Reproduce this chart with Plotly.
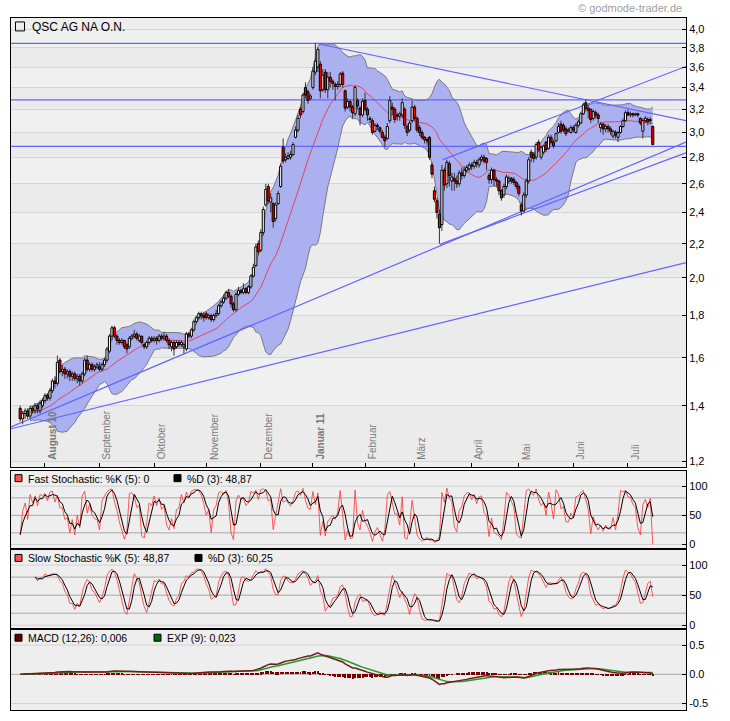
import numpy as np
import pandas as pd
import plotly.graph_objects as go

# ---------------- data ----------------
first_day = "2010-07-19"
last_day = "2011-07-15"
holidays = ["2010-12-24", "2010-12-31", "2011-04-22", "2011-04-25"]

opens = [
    1.39, 1.35, 1.37, 1.38, 1.36, 1.39, 1.38, 1.40, 1.38, 1.40,
    1.42, 1.44, 1.43, 1.46, 1.50, 1.49, 1.59, 1.54, 1.55, 1.53, 1.54, 1.52, 1.53, 1.51, 1.52, 1.50, 1.53, 1.59, 1.55, 1.57, 1.55, 1.56,
    1.56, 1.55, 1.57, 1.59, 1.63, 1.70, 1.74, 1.70, 1.68, 1.67, 1.68, 1.66, 1.65, 1.69, 1.70, 1.71, 1.68, 1.70, 1.66, 1.65, 1.67, 1.69,
    1.68, 1.69, 1.68, 1.70, 1.69, 1.70, 1.68, 1.65, 1.67, 1.65, 1.67, 1.66, 1.65, 1.64, 1.71, 1.70, 1.73, 1.77, 1.79, 1.81, 1.80,
    1.81, 1.79, 1.80, 1.78, 1.80, 1.81, 1.85, 1.87, 1.89, 1.92, 1.90, 1.86, 1.83, 1.91, 1.93, 1.92, 1.94, 1.92, 1.95, 2.01, 2.07, 2.20,
    2.16, 2.27, 2.45, 2.58, 2.47, 2.46, 2.36, 2.46, 2.58, 2.88, 2.78, 2.79, 2.80, 2.82, 2.96, 3.02, 3.20, 3.18, 3.40, 3.36, 3.30,
    3.40, 3.55, 3.60, 3.63, 3.38, 3.55, 3.38, 3.50, 3.46, 3.43, 3.41, 3.43, 3.54, 3.37, 3.22, 3.27, 3.22, 3.16, 3.28, 3.21, 3.15,
    3.28, 3.20, 3.11, 3.10, 3.01, 3.06, 3.04, 3.00, 2.96, 2.95, 3.10, 3.22, 3.20, 3.15, 3.14, 3.15, 3.20, 3.05, 3.02, 3.10,
    3.22, 3.12, 3.04, 3.00, 2.96, 2.94, 2.96, 2.74, 2.55, 2.48, 2.39, 2.32, 2.70, 2.60, 2.75, 2.62, 2.64, 2.62, 2.60, 2.68, 2.66, 2.70, 2.71,
    2.74, 2.73, 2.76, 2.74, 2.78, 2.80, 2.79, 2.66, 2.63, 2.70, 2.63, 2.62, 2.55, 2.52, 2.58, 2.62, 2.64, 2.63, 2.61,
    2.58, 2.45, 2.41, 2.52, 2.62, 2.84, 2.82, 2.80, 2.92, 2.80, 2.84, 2.92, 2.87, 2.96, 2.92, 2.93, 3.00, 3.07, 3.06, 3.03, 3.01, 3.00,
    3.04, 3.00, 3.06, 3.08, 3.16, 3.26, 3.21, 3.20, 3.12, 3.17, 3.15, 3.04, 3.07, 3.03, 3.05, 3.03, 2.97, 3.00, 2.96, 3.00, 3.05, 3.10,
    3.17, 3.15, 3.16, 3.15, 3.16, 3.12, 3.01, 3.10, 3.11, 3.11, 3.05,
]
highs = [
    1.40, 1.38, 1.39, 1.39, 1.40, 1.40, 1.41, 1.41, 1.42, 1.43,
    1.45, 1.45, 1.47, 1.51, 1.52, 1.61, 1.60, 1.57, 1.56, 1.55, 1.55, 1.54, 1.54, 1.53, 1.53, 1.54, 1.60, 1.61, 1.58, 1.58, 1.57, 1.58,
    1.58, 1.58, 1.60, 1.65, 1.71, 1.75, 1.75, 1.71, 1.69, 1.69, 1.68, 1.67, 1.70, 1.71, 1.73, 1.72, 1.71, 1.70, 1.67, 1.68, 1.70, 1.70,
    1.70, 1.70, 1.71, 1.71, 1.72, 1.71, 1.69, 1.68, 1.68, 1.68, 1.68, 1.68, 1.67, 1.72, 1.72, 1.74, 1.78, 1.80, 1.82, 1.82, 1.82,
    1.82, 1.81, 1.81, 1.81, 1.83, 1.86, 1.88, 1.91, 1.93, 1.94, 1.91, 1.87, 1.92, 1.95, 1.94, 1.97, 1.95, 1.96, 2.02, 2.08, 2.20, 2.22,
    2.29, 2.44, 2.60, 2.60, 2.53, 2.47, 2.47, 2.55, 2.75, 2.95, 2.83, 2.84, 2.85, 2.92, 3.05, 3.15, 3.22, 3.35, 3.45, 3.38, 3.34,
    3.60, 3.85, 3.80, 3.66, 3.58, 3.58, 3.55, 3.55, 3.48, 3.45, 3.46, 3.55, 3.56, 3.38, 3.30, 3.29, 3.24, 3.42, 3.30, 3.23, 3.30,
    3.35, 3.22, 3.14, 3.12, 3.08, 3.08, 3.05, 3.02, 2.98, 3.08, 3.32, 3.26, 3.22, 3.17, 3.18, 3.30, 3.22, 3.07, 3.10, 3.28,
    3.24, 3.14, 3.06, 3.02, 2.97, 2.96, 2.97, 2.76, 2.58, 2.50, 2.42, 2.74, 2.72, 2.78, 2.77, 2.68, 2.68, 2.66, 2.70, 2.72, 2.73, 2.74, 2.76,
    2.76, 2.78, 2.78, 2.80, 2.82, 2.82, 2.80, 2.68, 2.72, 2.71, 2.65, 2.63, 2.56, 2.60, 2.67, 2.66, 2.65, 2.65, 2.62,
    2.60, 2.47, 2.54, 2.64, 2.80, 2.86, 2.84, 2.92, 2.94, 2.89, 2.90, 2.93, 2.98, 2.98, 2.94, 3.00, 3.08, 3.10, 3.08, 3.05, 3.04, 3.06,
    3.06, 3.08, 3.11, 3.18, 3.26, 3.29, 3.24, 3.21, 3.20, 3.19, 3.17, 3.09, 3.08, 3.07, 3.07, 3.05, 3.02, 3.02, 3.01, 3.06, 3.12, 3.19,
    3.20, 3.18, 3.17, 3.17, 3.17, 3.13, 3.12, 3.14, 3.13, 3.13, 3.06,
]
lows = [
    1.34, 1.33, 1.35, 1.35, 1.35, 1.37, 1.37, 1.37, 1.37, 1.39,
    1.41, 1.42, 1.42, 1.45, 1.47, 1.48, 1.53, 1.52, 1.51, 1.51, 1.50, 1.50, 1.50, 1.49, 1.48, 1.49, 1.52, 1.54, 1.54, 1.54, 1.54, 1.55,
    1.54, 1.54, 1.56, 1.58, 1.62, 1.68, 1.69, 1.66, 1.66, 1.66, 1.64, 1.62, 1.64, 1.68, 1.69, 1.68, 1.67, 1.66, 1.64, 1.64, 1.66, 1.67,
    1.67, 1.66, 1.67, 1.68, 1.68, 1.67, 1.64, 1.63, 1.61, 1.64, 1.65, 1.65, 1.62, 1.63, 1.69, 1.69, 1.72, 1.76, 1.78, 1.78, 1.77,
    1.78, 1.78, 1.77, 1.77, 1.79, 1.80, 1.84, 1.86, 1.88, 1.89, 1.84, 1.82, 1.82, 1.90, 1.91, 1.91, 1.91, 1.91, 1.94, 2.00, 2.06, 2.13,
    2.15, 2.25, 2.44, 2.46, 2.40, 2.30, 2.34, 2.45, 2.57, 2.75, 2.76, 2.78, 2.78, 2.81, 2.95, 3.00, 3.12, 3.16, 3.30, 3.25, 3.28,
    3.38, 3.52, 3.55, 3.30, 3.36, 3.35, 3.30, 3.40, 3.38, 3.28, 3.38, 3.40, 3.40, 3.18, 3.20, 3.18, 3.12, 3.14, 3.20, 3.06, 3.13,
    3.18, 3.10, 3.08, 2.98, 3.00, 3.02, 2.99, 2.95, 2.88, 2.94, 3.08, 3.15, 3.08, 3.10, 3.10, 3.12, 3.03, 2.97, 3.00, 3.08,
    3.10, 3.00, 2.97, 2.94, 2.91, 2.90, 2.78, 2.64, 2.47, 2.36, 2.20, 2.28, 2.55, 2.57, 2.58, 2.55, 2.55, 2.57, 2.58, 2.63, 2.64, 2.68, 2.69,
    2.70, 2.71, 2.72, 2.72, 2.76, 2.75, 2.70, 2.60, 2.60, 2.58, 2.58, 2.52, 2.48, 2.50, 2.56, 2.60, 2.60, 2.59, 2.56,
    2.51, 2.38, 2.40, 2.50, 2.60, 2.76, 2.76, 2.78, 2.84, 2.78, 2.82, 2.84, 2.86, 2.90, 2.87, 2.92, 2.99, 2.99, 3.00, 2.97, 3.00, 2.99,
    3.00, 2.99, 3.04, 3.07, 3.15, 3.18, 3.12, 3.08, 3.10, 3.12, 3.08, 3.00, 2.98, 3.00, 3.00, 2.98, 2.95, 2.95, 2.92, 2.99, 3.04, 3.09,
    3.14, 3.13, 3.13, 3.14, 3.13, 3.06, 2.95, 3.08, 3.06, 3.07, 2.90,
]
closes = [
    1.35, 1.37, 1.38, 1.36, 1.39, 1.38, 1.40, 1.39, 1.41, 1.42,
    1.44, 1.43, 1.46, 1.50, 1.49, 1.58, 1.54, 1.55, 1.53, 1.54, 1.52, 1.53, 1.51, 1.52, 1.50, 1.53, 1.59, 1.55, 1.57, 1.55, 1.56, 1.57,
    1.55, 1.57, 1.59, 1.64, 1.70, 1.74, 1.70, 1.68, 1.67, 1.68, 1.65, 1.64, 1.69, 1.70, 1.71, 1.69, 1.70, 1.67, 1.65, 1.67, 1.69, 1.68,
    1.69, 1.68, 1.70, 1.69, 1.70, 1.68, 1.66, 1.67, 1.64, 1.67, 1.66, 1.67, 1.66, 1.71, 1.70, 1.73, 1.77, 1.79, 1.81, 1.80, 1.79,
    1.79, 1.80, 1.78, 1.80, 1.81, 1.85, 1.87, 1.89, 1.92, 1.90, 1.86, 1.83, 1.91, 1.93, 1.92, 1.94, 1.92, 1.95, 2.01, 2.06, 2.18, 2.15,
    2.27, 2.42, 2.56, 2.48, 2.50, 2.34, 2.45, 2.53, 2.73, 2.77, 2.80, 2.81, 2.82, 2.90, 3.02, 3.12, 3.15, 3.33, 3.33, 3.28, 3.32,
    3.56, 3.66, 3.78, 3.37, 3.52, 3.38, 3.50, 3.46, 3.44, 3.41, 3.43, 3.53, 3.43, 3.21, 3.27, 3.22, 3.17, 3.40, 3.23, 3.15, 3.27,
    3.20, 3.15, 3.12, 3.00, 3.06, 3.05, 3.01, 2.96, 2.93, 3.05, 3.28, 3.20, 3.11, 3.14, 3.16, 3.26, 3.06, 3.00, 3.08, 3.22,
    3.12, 3.02, 3.00, 2.96, 2.94, 2.93, 2.80, 2.67, 2.49, 2.40, 2.30, 2.70, 2.59, 2.76, 2.66, 2.65, 2.62, 2.60, 2.68, 2.66, 2.70, 2.72, 2.74,
    2.73, 2.76, 2.75, 2.78, 2.80, 2.77, 2.76, 2.63, 2.70, 2.63, 2.62, 2.55, 2.50, 2.58, 2.65, 2.64, 2.62, 2.61, 2.58,
    2.53, 2.41, 2.52, 2.62, 2.78, 2.80, 2.79, 2.90, 2.86, 2.88, 2.89, 2.86, 2.96, 2.92, 2.89, 2.99, 3.05, 3.01, 3.02, 2.99, 3.02, 3.04,
    3.02, 3.06, 3.09, 3.16, 3.24, 3.21, 3.19, 3.11, 3.18, 3.15, 3.12, 3.07, 3.03, 3.05, 3.03, 3.01, 3.01, 2.98, 3.00, 3.05, 3.10, 3.17,
    3.15, 3.16, 3.15, 3.16, 3.15, 3.08, 3.10, 3.12, 3.09, 3.10, 2.90,
]

month_labels = ["August 10", "September", "Oktober", "November", "Dezember", "Januar 11",
                "Februar", "März", "April", "Mai", "Juni", "Juli"]
price_ticks = [1.2, 1.4, 1.6, 1.8, 2.0, 2.2, 2.4, 2.6, 2.8, 3.0, 3.2, 3.4, 3.6, 3.8, 4.0]
price_tick_text = ["1,2", "1,4", "1,6", "1,8", "2,0", "2,2", "2,4", "2,6", "2,8", "3,0",
                   "3,2", "3,4", "3,6", "3,8", "4,0"]
stoch_ticks = [0, 50, 100]
stoch_grid = [0, 20, 50, 80, 100]
macd_ticks = [-0.5, 0.0, 0.5]
macd_tick_text = ["-0.5", "0.0", "0.5"]

# trend lines: (start index, start price) -> (end index, end price)
trend_x0 = [-3.7, -3.7, -3.7, 119.0, 170.4, -3.7, 169.2, -3.7]
trend_p0 = [3.847, 3.286, 2.885, 3.847, 2.781, 1.320, 2.196, 1.313]
trend_x1 = [268.4, 268.4, 268.4, 268.4, 268.4, 268.4, 268.4, 268.4]
trend_p1 = [3.847, 3.286, 2.885, 3.100, 3.606, 2.920, 2.835, 2.087]

title_text = "QSC AG NA O.N."
fast_k_text = "Fast Stochastic: %K (5): 0"
fast_d_text = "%D (3): 48,87"
slow_k_text = "Slow Stochastic %K (5): 48,87"
slow_d_text = "%D (3): 60,25"
macd_text = "MACD (12,26): 0,006"
exp_text = "EXP (9): 0,023"
watermark = "© godmode-trader.de"

# ---------------- derived ----------------
dates = pd.bdate_range(first_day, last_day)
dates = dates[~dates.isin(pd.to_datetime(holidays))]
n = len(closes)
assert len(dates) == n == len(opens) == len(highs) == len(lows)
xi = np.arange(n)
month_starts = [i for i in range(1, n) if dates[i].month != dates[i - 1].month]

c = pd.Series(closes)
h = pd.Series(highs)
l = pd.Series(lows)
sma = c.rolling(20, min_periods=5).mean()
sd = c.rolling(20, min_periods=5).std(ddof=0)
upper = sma + 2 * sd
lower = sma - 2 * sd

ll = l.rolling(5, min_periods=1).min()
hh = h.rolling(5, min_periods=1).max()
fast_k = 100 * (c - ll) / (hh - ll)
fast_d = fast_k.rolling(3, min_periods=1).mean()
slow_k = fast_d.where(xi >= 6)
slow_d = slow_k.rolling(3, min_periods=1).mean()

ema12 = c.ewm(span=12, adjust=False).mean()
ema26 = c.ewm(span=26, adjust=False).mean()
macd = ema12 - ema26
signal = macd.ewm(span=9, adjust=False).mean()
hist = macd - signal

# candle geometry built from the OHLC lists
HALF = 0.42
wick_x, wick_y = [], []
up_x, up_y, dn_x, dn_y = [], [], [], []
for i in range(n):
    wick_x += [i, i, None]
    wick_y += [lows[i], highs[i], None]
    bx = [i - HALF, i + HALF, i + HALF, i - HALF, i - HALF, None]
    by = [opens[i], opens[i], closes[i], closes[i], opens[i], None]
    if closes[i] >= opens[i]:
        up_x += bx; up_y += by
    else:
        dn_x += bx; dn_y += by

# ---------------- layout helpers ----------------
W, H = 730, 721
X_RANGE = [-3.7, 268.4]
def px(p): return p / W
def py(p): return 1 - p / H

FONT = "Liberation Sans, Arial, sans-serif"
fig = go.Figure()

# Bollinger band
fig.add_trace(go.Scatter(x=xi, y=lower, mode="lines", line=dict(color="#7a7a7a", width=1),
                         xaxis="x", yaxis="y", hoverinfo="skip"))
fig.add_trace(go.Scatter(x=xi, y=upper, mode="lines", line=dict(color="#7a7a7a", width=1),
                         fill="tonexty", fillcolor="rgb(170,176,240)",
                         xaxis="x", yaxis="y", hoverinfo="skip"))
fig.add_trace(go.Scatter(x=xi, y=sma, mode="lines", line=dict(color="rgb(225,70,90)", width=1),
                         xaxis="x", yaxis="y"))
for a0, b0, a1, b1 in zip(trend_x0, trend_p0, trend_x1, trend_p1):
    fig.add_trace(go.Scatter(x=[a0, a1], y=[b0, b1], mode="lines",
                             line=dict(color="rgb(100,100,255)", width=1.2),
                             xaxis="x", yaxis="y", hoverinfo="skip"))
# candles
fig.add_trace(go.Scatter(x=wick_x, y=wick_y, mode="lines", line=dict(color="#333333", width=1),
                         xaxis="x", yaxis="y", hoverinfo="skip"))
fig.add_trace(go.Scatter(x=up_x, y=up_y, mode="lines", fill="toself", fillcolor="white",
                         line=dict(color="black", width=1), xaxis="x", yaxis="y", hoverinfo="skip"))
fig.add_trace(go.Scatter(x=dn_x, y=dn_y, mode="lines", fill="toself", fillcolor="#ff0000",
                         line=dict(color="black", width=1), xaxis="x", yaxis="y", hoverinfo="skip"))

# Fast stochastic
fig.add_trace(go.Scatter(x=xi, y=fast_k, mode="lines", line=dict(color="rgba(255,50,50,0.8)", width=1),
                         xaxis="x2", yaxis="y2"))
fig.add_trace(go.Scatter(x=xi, y=fast_d, mode="lines", line=dict(color="black", width=1),
                         xaxis="x2", yaxis="y2"))
# Slow stochastic
fig.add_trace(go.Scatter(x=xi, y=slow_k, mode="lines", line=dict(color="rgba(255,50,50,0.8)", width=1),
                         xaxis="x3", yaxis="y3"))
fig.add_trace(go.Scatter(x=xi, y=slow_d, mode="lines", line=dict(color="black", width=1),
                         xaxis="x3", yaxis="y3"))
# MACD
fig.add_trace(go.Bar(x=xi, y=hist, marker=dict(color="#7a0000", line=dict(width=0)), width=0.4,
                     xaxis="x4", yaxis="y4"))
fig.add_trace(go.Scatter(x=xi, y=signal, mode="lines", line=dict(color="rgb(40,150,40)", width=1.5),
                         xaxis="x4", yaxis="y4"))
fig.add_trace(go.Scatter(x=xi, y=macd, mode="lines", line=dict(color="rgb(110,30,30)", width=1.5),
                         xaxis="x4", yaxis="y4"))

xdom = [px(11), px(686)]
common_x = dict(domain=xdom, range=X_RANGE, showgrid=False, zeroline=False, showline=True,
                mirror=True, linecolor="black", linewidth=1, fixedrange=True)
common_y = dict(side="right", showline=True, mirror=True, linecolor="black", linewidth=1,
                ticks="inside", ticklen=4, tickcolor="black", zeroline=False,
                tickfont=dict(family=FONT, size=11, color="black"), fixedrange=True)

shapes = []
# alternating background bands in main panel
for i in range(len(price_ticks) - 1):
    shapes.append(dict(type="rect", xref="x domain", yref="y", x0=0, x1=1,
                       y0=price_ticks[i], y1=price_ticks[i + 1], layer="below",
                       line=dict(width=0), fillcolor="#ebebeb" if i % 2 == 0 else "#f0f0f0"))
for yref, vals in (("y2", stoch_grid), ("y3", stoch_grid)):
    for v in vals:
        shapes.append(dict(type="line", xref="x domain", yref=yref, x0=0, x1=1, y0=v, y1=v,
                           layer="below",
                           line=dict(color="#d2d2d2" if v in (0, 100) else "#a8a8a8", width=1)))
for v in macd_ticks:
    shapes.append(dict(type="line", xref="x domain", yref="y4", x0=0, x1=1, y0=v, y1=v,
                       layer="below", line=dict(color="#a8a8a8" if v == 0 else "#d2d2d2", width=1)))

# legend squares
def square(x0, y0, color):
    shapes.append(dict(type="rect", xref="paper", yref="paper", x0=px(x0), x1=px(x0 + 7),
                       y0=py(y0 + 7), y1=py(y0), fillcolor=color, line=dict(color="black", width=1)))
shapes.append(dict(type="rect", xref="paper", yref="paper", x0=px(15.5), x1=px(24.5),
                   y0=py(31), y1=py(22), fillcolor="rgba(0,0,0,0)", line=dict(color="black", width=1)))
square(15, 476, "#ff5050")
square(174, 476, "black")
square(15, 556, "#ff5050")
square(195, 556, "black")
square(15, 636, "#660000")
square(154, 636, "#006600")

annotations = []
def text(x, y, s, size=10.5, color="black", anchor="left"):
    annotations.append(dict(xref="paper", yref="paper", x=px(x), y=py(y), text=s, showarrow=False,
                            xanchor=anchor, yanchor="middle",
                            font=dict(family=FONT, size=size, color=color)))
text(30, 27, title_text, size=12)
text(26, 480, fast_k_text)
text(185, 480, fast_d_text)
text(26, 560, slow_k_text)
text(206, 560, slow_d_text)
text(26, 640, macd_text)
text(165, 640, exp_text)
text(684, 8, watermark, size=11, color="#a0a0a0", anchor="right")

for pos, lab in zip(month_starts, month_labels):
    bold = lab.endswith("10") or lab.endswith("11")
    annotations.append(dict(xref="x", yref="paper", x=pos, y=py(468), text=("<b>%s</b>" % lab) if bold else lab,
                            textangle=-90, showarrow=False, xanchor="left", yanchor="bottom",
                            xshift=0, yshift=5,
                            font=dict(family=FONT, size=10, color="#7a7a7a")))

fig.update_layout(
    width=W, height=H, margin=dict(l=0, r=0, t=0, b=0),
    paper_bgcolor="white", plot_bgcolor="#eeeeee",
    showlegend=False, bargap=0,
    xaxis=dict(common_x, anchor="y", tickvals=month_starts, ticks="inside", ticklen=4,
               tickcolor="black", showticklabels=False),
    xaxis2=dict(common_x, anchor="y2", showticklabels=False, ticks=""),
    xaxis3=dict(common_x, anchor="y3", showticklabels=False, ticks=""),
    xaxis4=dict(common_x, anchor="y4", showticklabels=False, ticks=""),
    yaxis=dict(common_y, anchor="x", domain=[py(468), py(18)], type="log",
               range=[0.0723, 0.6158], tickvals=price_ticks, ticktext=price_tick_text,
               showgrid=True, gridcolor="#d6d6d6", gridwidth=1),
    yaxis2=dict(common_y, anchor="x2", domain=[py(551), py(472)], range=[-8.5, 126.6],
                tickvals=stoch_ticks, showgrid=False),
    yaxis3=dict(common_y, anchor="x3", domain=[py(631), py(551)], range=[-6.7, 126],
                tickvals=stoch_ticks, showgrid=False),
    yaxis4=dict(common_y, anchor="x4", domain=[py(712), py(631)], range=[-0.61, 0.77],
                tickvals=macd_ticks, ticktext=macd_tick_text, showgrid=False),
    shapes=shapes, annotations=annotations,
)

# remove the page's default 8px body margin so the figure fills the window exactly
fig.write_html("out.html", config={"displayModeBar": False},
               post_script="document.body.style.margin='0px';document.body.style.overflow='hidden';")
